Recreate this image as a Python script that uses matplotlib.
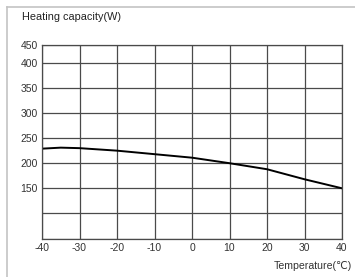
import numpy as np
import matplotlib
matplotlib.use("Agg")
import matplotlib.pyplot as plt
from matplotlib.lines import Line2D

# curve
TEMPS    = [-40, -35, -30, -20, -10, 0, 10, 20, 30, 40]
CAPACITY = [229, 231, 230, 225, 218, 211, 200, 188, 168, 150]

X_TICKS = [-40, -30, -20, -10, 0, 10, 20, 30, 40]
Y_GRID  = [50, 100, 150, 200, 250, 300, 350, 400, 450]
Y_LABELS = ["", "", "150", "200", "250", "300", "350", "400", "450"]

GRID_COLOR = "#4a4a4a"
TOP_SQUEEZE = 0.73   # 400-450 band is drawn shorter than the others


def fwd(y):
    y = np.asarray(y, dtype=float)
    return np.where(y <= 400, y, 400 + (y - 400) * TOP_SQUEEZE)


def inv(y):
    y = np.asarray(y, dtype=float)
    return np.where(y <= 400, y, 400 + (y - 400) / TOP_SQUEEZE)


plt.rcParams["font.family"] = ["Liberation Sans", "DejaVu Sans"]

fig = plt.figure(figsize=(3.55, 2.77), dpi=100, facecolor="white")

# outer light frame (left + top edges visible)
fig.add_artist(Line2D([7 / 355, 7 / 355], [0, 1 - 7 / 277], transform=fig.transFigure,
                      color="#c4c4c4", linewidth=1.2))
fig.add_artist(Line2D([7 / 355, 1], [1 - 7 / 277, 1 - 7 / 277], transform=fig.transFigure,
                      color="#c4c4c4", linewidth=1.2))

fig.text(22 / 355, 1 - 17 / 277, "Heating capacity(W)", fontsize=7.8,
         color="#222222", va="center", ha="left")

ax = fig.add_axes([42 / 355, 1 - 238.5 / 277, 300 / 355, 194 / 277])
ax.set_yscale("function", functions=(fwd, inv))
ax.set_xlim(-40, 40)
ax.set_ylim(50, 450)

ax.set_xticks(X_TICKS)
ax.set_xticklabels([str(t) for t in X_TICKS])
ax.set_yticks(Y_GRID)
ax.set_yticklabels(Y_LABELS)
ax.minorticks_off()
ax.tick_params(length=0, labelsize=7.5, colors="#333333", pad=3)

ax.grid(True, color=GRID_COLOR, linewidth=0.9)
ax.set_axisbelow(True)
for sp in ax.spines.values():
    sp.set_color(GRID_COLOR)
    sp.set_linewidth(0.9)

ax.plot(TEMPS, CAPACITY, color="black", linewidth=1.4, solid_capstyle="round")

fig.text(352 / 355, 1 - 266 / 277, "Temperature(\u2103)", fontsize=7.6,
         color="#333333", ha="right", va="center")

fig.savefig("out.png", dpi=100)
